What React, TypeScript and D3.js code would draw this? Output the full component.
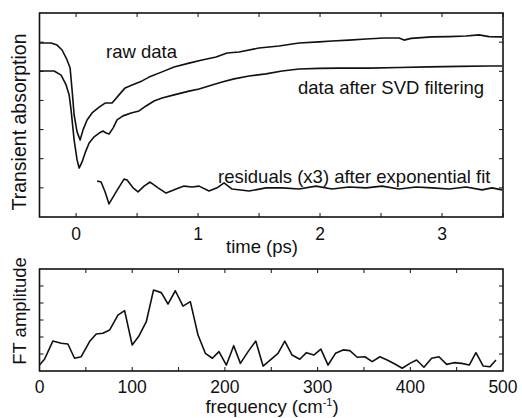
import React from "react";
import * as d3 from "d3";

// ---- Top panel: transient absorption vs time (ps) ----
const rawT = [-0.303, -0.205, -0.156, -0.115, -0.074, -0.049, -0.033, -0.016, 0.008, 0.033, 0.057, 0.09, 0.131, 0.189, 0.238, 0.295, 0.352, 0.402, 0.459, 0.541, 0.598, 0.705, 0.803, 0.926, 1.033, 1.148, 1.238, 1.336, 1.5, 1.664, 1.828, 1.992, 2.098, 2.238, 2.377, 2.525, 2.648, 2.689, 2.746, 2.918, 3.057, 3.197, 3.303, 3.385, 3.492];
const rawY = [5.97, 5.97, 5.9, 5.73, 5.39, 5.11, 4.36, 3.5, 2.92, 2.64, 2.99, 3.33, 3.57, 3.77, 3.91, 3.91, 4.19, 4.43, 4.53, 4.67, 4.8, 4.98, 5.15, 5.28, 5.39, 5.49, 5.63, 5.66, 5.8, 5.87, 5.97, 6.01, 6.04, 6.07, 6.11, 6.14, 6.14, 6.07, 6.13, 6.18, 6.19, 6.21, 6.25, 6.19, 6.18];

const svdT = [-0.303, -0.18, -0.123, -0.082, -0.057, -0.041, -0.016, 0.008, 0.025, 0.049, 0.074, 0.107, 0.148, 0.189, 0.221, 0.246, 0.27, 0.303, 0.336, 0.385, 0.451, 0.516, 0.574, 0.639, 0.705, 0.803, 0.926, 1.008, 1.115, 1.197, 1.295, 1.418, 1.557, 1.689, 1.828, 1.992, 2.156, 2.402, 2.648, 2.893, 3.139, 3.385, 3.492];
const svdY = [5.01, 5.01, 4.87, 4.53, 4.19, 3.67, 2.64, 1.96, 1.68, 1.89, 2.2, 2.54, 2.75, 2.88, 2.95, 2.88, 2.85, 3.05, 3.33, 3.47, 3.57, 3.64, 3.81, 3.98, 4.08, 4.19, 4.32, 4.39, 4.53, 4.63, 4.74, 4.84, 4.91, 5.01, 5.08, 5.1, 5.11, 5.11, 5.13, 5.15, 5.17, 5.18, 5.18];

const resT = [0.172, 0.205, 0.238, 0.27, 0.328, 0.393, 0.418, 0.467, 0.508, 0.557, 0.607, 0.672, 0.738, 0.82, 0.885, 0.951, 1.008, 1.09, 1.156, 1.213, 1.279, 1.418, 1.557, 1.689, 1.828, 1.967, 2.098, 2.238, 2.377, 2.508, 2.648, 2.787, 2.918, 3.057, 3.197, 3.328, 3.41, 3.492];
const resY = [1.235, 1.2, 0.86, 0.45, 0.86, 1.3, 1.27, 1.0, 0.86, 1.06, 1.2, 1.0, 0.82, 0.96, 1.06, 1.03, 1.06, 0.89, 1.0, 1.17, 0.96, 0.89, 1.0, 1.0, 0.96, 1.06, 0.96, 1.03, 1.0, 1.06, 0.96, 1.03, 1.0, 0.96, 1.03, 0.93, 1.0, 0.93];

const timeTickLabels = [0, 1, 2, 3];

// ---- Bottom panel: FT amplitude vs frequency (cm-1) ----
const freq = [0, 5.4, 14.4, 23.4, 30.6, 37.8, 45, 54, 61.2, 68.4, 75.6, 84.6, 91.8, 100, 107.3, 115.2, 123, 131.4, 138.6, 146.5, 154.8, 162.7, 171, 178.9, 186.5, 193.6, 201.6, 209.5, 216.7, 225, 233.3, 241.2, 249.1, 257.3, 264.6, 272.5, 280.8, 288, 295.9, 303.5, 311.3, 319.3, 327.5, 334.8, 342.7, 351, 358.9, 367.2, 375, 383.4, 391.3, 399.6, 406.8, 414.7, 423, 430.9, 439.2, 447.1, 455.4, 463.6, 470.8, 478.7, 486, 492.4];
const ftAmp = [0.35, 0.69, 1.76, 1.63, 1.59, 0.75, 0.84, 1.73, 2.18, 2.22, 2.41, 3.29, 3.55, 1.53, 2.06, 2.9, 4.76, 4.61, 3.94, 4.72, 3.82, 4.08, 2.12, 1.04, 0.75, 1.14, 0.35, 1.49, 0.45, 1.14, 1.76, 0.29, 0.65, 1.04, 1.76, 0.94, 0.69, 1.08, 0.94, 1.29, 0.35, 1.04, 1.24, 1.2, 0.81, 0.84, 0.55, 0.84, 0.65, 0.41, 0.16, 0.45, 0.65, 0.22, 0.75, 0.84, 0.39, 0.49, 0.45, 0.35, 1.08, 0.29, 0.25, 0.65];

const freqTickLabels = [0, 100, 200, 300, 400, 500];

const FONT = "'Liberation Sans', Arial, Helvetica, sans-serif";

export default function App() {
  const W = 522, H = 418;
  const L = 39.5, R = 503;
  // top panel
  const t1 = 13, b1 = 217;
  const x1 = d3.scaleLinear().domain([-0.3, 3.5]).range([L, R]);
  const y1 = d3.scaleLinear().domain([0, 7]).range([b1, t1]);
  // bottom panel
  const t2 = 269, b2 = 371;
  const x2 = d3.scaleLinear().domain([0, 500]).range([L, R]);
  const y2 = d3.scaleLinear().domain([0, 6]).range([b2, t2]);

  const line1 = (T: number[], Y: number[]) =>
    d3.line<number>().x((_, i) => x1(T[i])).y((_, i) => y1(Y[i]))(Y) || "";
  const line2 = d3.line<number>().x((_, i) => x2(freq[i])).y((d) => y2(d))(ftAmp) || "";

  const tk = 4;
  const xTicks1 = d3.range(0, 3.5001, 0.5);
  const yTicks1 = d3.range(1, 7, 1);
  const xTicks2 = d3.range(50, 500, 50);
  const yTicks2 = d3.range(1, 6, 1);

  const stroke = "#111";
  return (
    <svg width={W} height={H} style={{ position: "absolute", left: 0, top: 0, background: "#fff" }} fontFamily={FONT}>
      <rect x={0} y={0} width={W} height={H} fill="#fff" />
      {/* Top panel */}
      <g fill="none" stroke={stroke} strokeWidth={1.6}>
        <rect x={L} y={t1} width={R - L} height={b1 - t1} />
        {xTicks1.map((v) => (
          <g key={"xt" + v}>
            <line x1={x1(v)} x2={x1(v)} y1={b1} y2={b1 - tk} strokeWidth={1} />
            <line x1={x1(v)} x2={x1(v)} y1={t1} y2={t1 + tk} strokeWidth={1} />
          </g>
        ))}
        {yTicks1.map((v) => (
          <g key={"yt" + v}>
            <line x1={L} x2={L + tk} y1={y1(v)} y2={y1(v)} strokeWidth={1} />
            <line x1={R} x2={R - tk} y1={y1(v)} y2={y1(v)} strokeWidth={1} />
          </g>
        ))}
        <path d={line1(rawT, rawY)} strokeLinejoin="round" />
        <path d={line1(svdT, svdY)} strokeLinejoin="round" />
        <path d={line1(resT, resY)} strokeLinejoin="round" />
      </g>
      <g fill="#111" fontSize={18.5}>
        <text x={106} y={58}>raw data</text>
        <text x={298} y={94}>data after SVD filtering</text>
        <text x={218} y={183}>residuals (x3) after exponential fit</text>
        {timeTickLabels.map((v) => (
          <text key={"tl" + v} x={x1(v)} y={240} textAnchor="middle" fontSize={17.5}>{v}</text>
        ))}
        <text x={262} y={253} textAnchor="middle">time (ps)</text>
        <text transform={`translate(26,122) rotate(-90)`} textAnchor="middle" fontSize={19.5}>Transient absorption</text>
      </g>

      {/* Bottom panel */}
      <g fill="none" stroke={stroke} strokeWidth={1.6}>
        <rect x={L} y={t2} width={R - L} height={b2 - t2} />
        {xTicks2.map((v) => (
          <g key={"xb" + v}>
            <line x1={x2(v)} x2={x2(v)} y1={b2} y2={b2 - tk} strokeWidth={1} />
            <line x1={x2(v)} x2={x2(v)} y1={t2} y2={t2 + tk} strokeWidth={1} />
          </g>
        ))}
        {yTicks2.map((v) => (
          <g key={"yb" + v}>
            <line x1={L} x2={L + tk} y1={y2(v)} y2={y2(v)} strokeWidth={1} />
            <line x1={R} x2={R - tk} y1={y2(v)} y2={y2(v)} strokeWidth={1} />
          </g>
        ))}
        <path d={line2} strokeLinejoin="round" />
      </g>
      <g fill="#111" fontSize={18.5}>
        {freqTickLabels.map((v) => (
          <text key={"fl" + v} x={x2(v)} y={393} textAnchor="middle" fontSize={17.5}>{v}</text>
        ))}
        <text x={272} y={413} textAnchor="middle">
          frequency (cm<tspan fontSize={11} dy={-7}>-1</tspan><tspan dy={7}>)</tspan>
        </text>
        <text transform={`translate(26,311) rotate(-90)`} textAnchor="middle" fontSize={18.5}>FT amplitude</text>
      </g>
    </svg>
  );
}
